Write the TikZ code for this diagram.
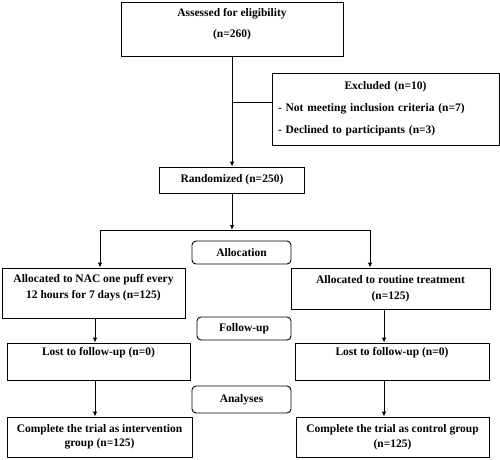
\documentclass[tikz,border=0pt]{standalone}
\usepackage{fontspec}
\setmainfont{Liberation Serif}
\usetikzlibrary{arrows.meta}
\begin{document}
\begin{tikzpicture}[x=1pt,y=-1pt,
  box/.style={draw, line width=0.9pt, align=center, inner sep=2pt,
    font=\bfseries\fontsize{11.5}{16}\selectfont},
  stage/.style={draw, line width=0.9pt, rounded corners=4pt, inner sep=2pt,
    font=\bfseries\fontsize{11.5}{14}\selectfont},
  arr/.style={line width=0.9pt, -{Latex[length=5pt,width=4.5pt]}},
  conn/.style={line width=0.9pt}]
\useasboundingbox (0,0) rectangle (500,459);
\fill[white] (0,0) rectangle (500,459);

\node[box, minimum width=222pt, minimum height=54pt,
  font=\bfseries\fontsize{11.5}{21}\selectfont, text depth=11.5pt]
  (elig) at (232,29) {Assessed for eligibility\\(n=260)};

\node[box, minimum width=227pt, minimum height=72pt, align=left,
  text width=215pt, inner xsep=6pt,
  font=\bfseries\fontsize{11.5}{22}\selectfont, text depth=47pt]
  (excl) at (385.5,109) {\makebox[215pt][c]{Excluded (n=10)}\\
  - Not meeting inclusion criteria (n=7)\\
  - Declined to participants (n=3)};

\node[box, minimum width=145pt, minimum height=26pt]
  (rand) at (232,180) {Randomized (n=250)};

\node[stage, minimum width=99pt, minimum height=23pt]
  (alloc) at (241.5,252.5) {Allocation};

\node[box, minimum width=183pt, minimum height=50pt, text depth=12.5pt]
  (al) at (93.5,293) {Allocated to NAC one puff every\\12 hours for 7 days (n=125)};

\node[box, minimum width=199pt, minimum height=41pt]
  (ar) at (390.5,288.5) {Allocated to routine treatment\\(n=125)};

\node[stage, minimum width=94pt, minimum height=23pt]
  (fu) at (244,328.5) {Follow-up};

\node[box, minimum width=183pt, minimum height=37pt, text depth=19.5pt]
  (ll) at (98.5,361.5) {Lost to follow-up (n=0)};

\node[box, minimum width=194pt, minimum height=37pt, text depth=19.5pt]
  (lr) at (392,361.5) {Lost to follow-up (n=0)};

\node[stage, minimum width=99pt, minimum height=27pt]
  (an) at (241.5,399.5) {Analyses};

\node[box, minimum width=185pt, minimum height=40pt,
  font=\bfseries\fontsize{11.5}{14.5}\selectfont]
  (cl) at (99.5,437) {Complete the trial as intervention\\group (n=125)};

\node[box, minimum width=193pt, minimum height=40pt,
  font=\bfseries\fontsize{11.5}{14.5}\selectfont]
  (cr) at (392.5,437) {Complete the trial as control group\\(n=125)};

% connectors
\coordinate (exj) at (232,102);
\coordinate (split) at (232,230);
\coordinate (sl) at (100,230);
\coordinate (sr) at (370,230);
\coordinate (xl) at (95,0);
\coordinate (xr) at (384,0);

\draw[arr] (elig.south) -- (elig.south |- rand.north);
\draw[conn] (exj) -- (exj -| excl.west);
\draw[arr] (rand.south) -- (split);
\draw[conn] (sl) -- (sr);
\draw[arr] (sl) -- (sl |- al.north);
\draw[arr] (sr) -- (sr |- ar.north);
\draw[arr] (al.south -| xl) -- (ll.north -| xl);
\draw[arr] (ar.south -| xr) -- (lr.north -| xr);
\draw[arr] (ll.south -| xl) -- (cl.north -| xl);
\draw[arr] (lr.south -| xr) -- (cr.north -| xr);
\end{tikzpicture}
\end{document}
